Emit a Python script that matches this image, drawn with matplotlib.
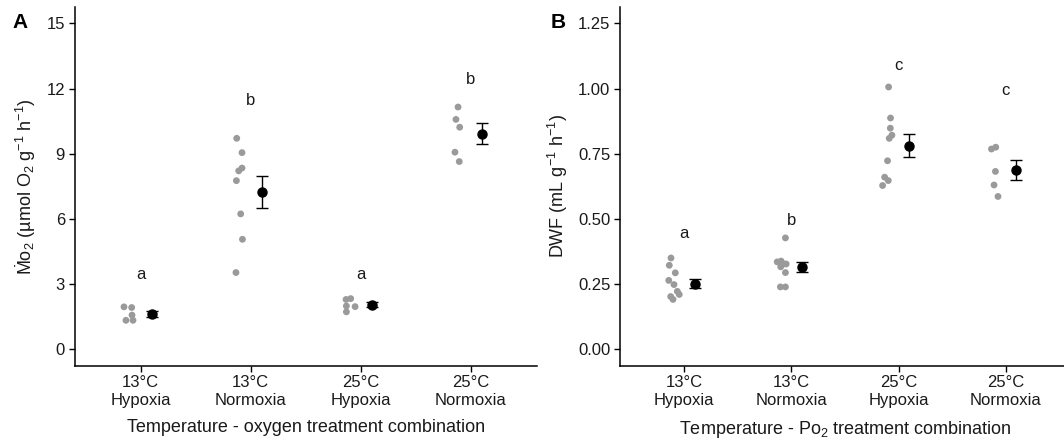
import matplotlib
matplotlib.use("Agg")
import matplotlib.pyplot as plt
import numpy as np

plt.rcParams['font.family'] = ['Liberation Sans', 'DejaVu Sans']
plt.rcParams['mathtext.fontset'] = 'custom'
plt.rcParams['mathtext.rm'] = 'Liberation Sans'
plt.rcParams['mathtext.it'] = 'Liberation Sans:italic'
plt.rcParams['mathtext.bf'] = 'Liberation Sans:bold'

# ---------------- data ----------------
categories = ["13°C\nHypoxia", "13°C\nNormoxia", "25°C\nHypoxia", "25°C\nNormoxia"]

# Panel A: MO2
mo2_points = [
    [1.95, 1.92, 1.57, 1.33, 1.33],
    [9.71, 9.05, 8.34, 8.21, 7.76, 6.23, 5.06, 3.53],
    [2.29, 2.33, 1.99, 1.96, 1.72],
    [11.15, 10.58, 10.22, 9.07, 8.64],
]
mo2_jitter = [
    [-0.152, -0.082, -0.079, -0.134, -0.070],
    [-0.127, -0.079, -0.079, -0.109, -0.130, -0.091, -0.075, -0.134],
    [-0.133, -0.091, -0.130, -0.051, -0.130],
    [-0.115, -0.134, -0.100, -0.143, -0.104],
]
mo2_mean = [1.62, 7.24, 2.05, 9.93]
mo2_se = [0.14, 0.74, 0.11, 0.47]
mo2_letters = ["a", "b", "a", "b"]
mo2_letter_y = [3.45, 11.47, 3.45, 12.43]
mo2_ticks = [0, 3, 6, 9, 12, 15]

# Panel B: DWF
dwf_points = [
    [0.350, 0.322, 0.293, 0.264, 0.248, 0.222, 0.210, 0.202, 0.191],
    [0.427, 0.335, 0.338, 0.327, 0.327, 0.316, 0.294, 0.239, 0.239],
    [1.006, 0.887, 0.848, 0.821, 0.809, 0.723, 0.660, 0.647, 0.628],
    [0.768, 0.775, 0.682, 0.630, 0.586],
]
dwf_jitter = [
    [-0.124, -0.140, -0.084, -0.145, -0.096, -0.065, -0.047, -0.127, -0.105],
    [-0.056, -0.133, -0.096, -0.072, -0.049, -0.100, -0.056, -0.103, -0.056],
    [-0.093, -0.075, -0.077, -0.062, -0.087, -0.103, -0.130, -0.096, -0.149],
    [-0.133, -0.093, -0.096, -0.109, -0.072],
]
dwf_mean = [0.251, 0.316, 0.781, 0.688]
dwf_se = [0.017, 0.018, 0.043, 0.038]
dwf_letters = ["a", "b", "c", "c"]
dwf_letter_y = [0.444, 0.495, 1.088, 0.993]
dwf_ticks = [0.00, 0.25, 0.50, 0.75, 1.00, 1.25]

# ---------------- figure ----------------
W, H = 1064, 444
fig = plt.figure(figsize=(W / 100, H / 100), dpi=100)

def px_axes(left, right, top, bottom):
    return fig.add_axes([left / W, 1 - bottom / H, (right - left) / W, (bottom - top) / H])

axA = px_axes(74.7, 536.7, 7.1, 365.5)
axB = px_axes(620.0, 1070.0, 7.1, 365.5)

GRAY = "#9a9a9a"
TXT = "#1a1a1a"

def draw(ax, points, jitter, means, ses, letters, letter_y, ticks, ylim, fmt):
    pos = np.arange(1, len(categories) + 1)
    for i, (vals, jit) in enumerate(zip(points, jitter)):
        ax.scatter(pos[i] + np.array(jit), vals, s=24, color=GRAY, edgecolors='none', zorder=2)
    ax.errorbar(pos + 0.1, means, yerr=ses, fmt='o', color='black', markersize=6.5,
                capsize=4, elinewidth=1.0, capthick=1.0, zorder=3)
    for i, (lt, ly) in enumerate(zip(letters, letter_y)):
        ax.text(pos[i], ly, lt, ha='center', va='center', fontsize=12, color=TXT)
    ax.set_xlim(0.4, 4.6)
    ax.set_ylim(*ylim)
    ax.set_xticks(pos)
    ax.set_xticklabels(categories, fontsize=12, color=TXT, linespacing=1.2)
    ax.set_yticks(ticks)
    ax.set_yticklabels([fmt.format(t) for t in ticks], fontsize=12, color=TXT)
    for s in ['top', 'right']:
        ax.spines[s].set_visible(False)
    for s in ['left', 'bottom']:
        ax.spines[s].set_linewidth(1.1)
        ax.spines[s].set_color('black')
    ax.tick_params(axis='both', direction='out', length=4, width=1.0, color='black', pad=3)

draw(axA, mo2_points, mo2_jitter, mo2_mean, mo2_se, mo2_letters, mo2_letter_y,
     mo2_ticks, (-0.75, 15.75), "{:g}")
draw(axB, dwf_points, dwf_jitter, dwf_mean, dwf_se, dwf_letters, dwf_letter_y,
     dwf_ticks, (-0.0625, 1.3125), "{:.2f}")

axA.set_ylabel(r'$\dot{\mathrm{M}}\mathrm{o}_2$ (µmol O$_2$ g$^{-1}$ h$^{-1}$)', fontsize=13, color=TXT, labelpad=6)
axA.set_xlabel('Temperature - oxygen treatment combination', fontsize=13, color=TXT, labelpad=8)
axB.set_ylabel(r'DWF (mL g$^{-1}$ h$^{-1}$)', fontsize=13, color=TXT, labelpad=6)
axB.set_xlabel(r'Temperature - Po$_2$ treatment combination', fontsize=13, color=TXT, labelpad=8)

fig.text(12 / W, 1 - 23 / H, 'A', fontsize=15, fontweight='bold', va='center', ha='left')
fig.text(551 / W, 1 - 23 / H, 'B', fontsize=15, fontweight='bold', va='center', ha='left')

fig.savefig('out.png', dpi=100)
